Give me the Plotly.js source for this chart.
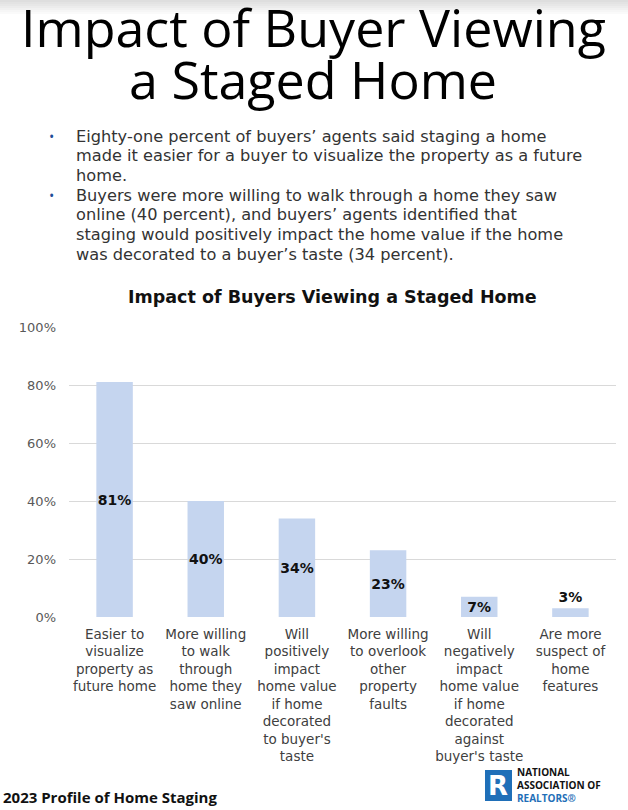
<!DOCTYPE html>
<html><head><meta charset="utf-8">
<script src="https://cdn.plot.ly/plotly-3.0.1.min.js"></script>
<style>html,body{margin:0;padding:0;background:#fff}#chart{width:628px;height:810px}</style>
</head><body><div id="chart"></div>
<script>
const categories = [
  "Easier to<br>visualize<br>property as<br>future home",
  "More willing<br>to walk<br>through<br>home they<br>saw online",
  "Will<br>positively<br>impact<br>home value<br>if home<br>decorated<br>to buyer's<br>taste",
  "More willing<br>to overlook<br>other<br>property<br>faults",
  "Will<br>negatively<br>impact<br>home value<br>if home<br>decorated<br>against<br>buyer's taste",
  "Are more<br>suspect of<br>home<br>features"
];
const values = [81, 40, 34, 23, 7, 3];
const labelPositions = ["inside", "inside", "inside", "inside", "inside", "outside"];
const yTickVals = [0, 20, 40, 60, 80, 100];
const bulletLines = [
  "Eighty-one percent of buyers’ agents said staging a home",
  "made it easier for a buyer to visualize the property as a future",
  "home.",
  "Buyers were more willing to walk through a home they saw",
  "online (40 percent), and buyers’ agents identified that",
  "staging would positively impact the home value if the home",
  "was decorated to a buyer’s taste (34 percent)."
];
const bulletStarts = [0, 3];

const FONT = "Open Sans, Lato, sans-serif";
const WIDE = "DejaVu Sans, sans-serif";
const T = 327; // top margin in px

function py(Y) { return T - Y; } // pixel row -> yshift from paper top

const trace = {
  type: "bar",
  x: categories,
  y: values,
  marker: {color: "#c5d5ef"},
  text: values.map(v => v + "%"),
  textposition: labelPositions,
  textangle: 0,
  insidetextanchor: "middle",
  constraintext: "none",
  cliponaxis: false,
  textfont: {family: WIDE, size: 14, color: "#111", weight: 700},
  hoverinfo: "skip"
};

const annotations = [
  {text: "Impact of Buyer Viewing", xref: "paper", yref: "paper",
   x: 0, y: 1, xanchor: "center", yanchor: "middle", showarrow: false,
   xshift: 313 - 69, yshift: py(26),
   font: {family: FONT, size: 52, color: "#000"}},
  {text: "a Staged Home", xref: "paper", yref: "paper",
   x: 0, y: 1, xanchor: "center", yanchor: "middle", showarrow: false,
   xshift: 313 - 69, yshift: py(78),
   font: {family: FONT, size: 52, color: "#000"}},
  {text: "<b>Impact of Buyers Viewing a Staged Home</b>", xref: "paper", yref: "paper",
   x: 0, y: 1, xanchor: "center", yanchor: "middle", showarrow: false,
   xshift: 332 - 69, yshift: py(297),
   font: {family: WIDE, size: 17.5, color: "#111"}},
  {text: "<b>2023 Profile of Home Staging</b>", xref: "paper", yref: "paper",
   x: 0, y: 1, xanchor: "left", yanchor: "middle", showarrow: false, xshift: 4 - 69 - 3, yshift: py(797),
   font: {family: FONT, size: 15, color: "#111"}},
  {text: "R", xref: "paper", yref: "paper", x: 0, y: 1, xanchor: "center", yanchor: "middle",
   showarrow: false, xshift: 498 - 69, yshift: py(786),
   font: {family: WIDE, size: 26, color: "#fff", weight: 700}},
  {text: "<b>NATIONAL<br>ASSOCIATION OF<br><span style='color:#1f6fb8'>REALTORS®</span></b>", xref: "paper", yref: "paper",
   x: 0, y: 1, xanchor: "left", yanchor: "middle", align: "left", showarrow: false,
   xshift: 515 - 69, yshift: py(785),
   font: {family: FONT, size: 10, color: "#111"}}
];
bulletLines.forEach((line, i) => {
  annotations.push({text: line, xref: "paper", yref: "paper", x: 0, y: 1,
    xanchor: "left", yanchor: "middle", align: "left", showarrow: false,
    xshift: 76 - 69 - 2, yshift: py(136 + i * 19.7),
    font: {family: WIDE, size: 16.2, color: "#333"}});
});
bulletStarts.forEach(i => {
  annotations.push({text: "•", xref: "paper", yref: "paper", x: 0, y: 1,
    xanchor: "center", yanchor: "middle", showarrow: false,
    xshift: 51 - 69, yshift: py(136 + i * 19.7),
    font: {family: FONT, size: 14, color: "#1f4e99"}});
});

const shapes = [
  {type: "rect", xref: "paper", yref: "paper", xsizemode: "pixel", ysizemode: "pixel",
   xanchor: 0, yanchor: 1, x0: 485 - 69, x1: 512 - 69, y0: py(770), y1: py(801),
   fillcolor: "#1f6fb8", line: {width: 0}}
];
// faint grey shading along the top edge
for (let k = 0; k < 7; k++) {
  shapes.push({type: "rect", xref: "paper", yref: "paper", ysizemode: "pixel", yanchor: 1,
    x0: -0.2, x1: 1.1, y0: py(k * 2), y1: py(k * 2 + 2), layer: "below",
    fillcolor: "#c8c8c8", opacity: 0.6 * (1 - k / 7), line: {width: 0}});
}

const layout = {
  width: 628, height: 810,
  margin: {l: 69, r: 12, t: T, b: 193},
  paper_bgcolor: "#fff", plot_bgcolor: "#fff",
  bargap: 0.6,
  showlegend: false,
  font: {family: WIDE, color: "#404040"},
  xaxis: {
    tickfont: {family: WIDE, size: 13.5, color: "#404040"},
    showgrid: false, showline: false, ticks: "", fixedrange: true,
    ticklabelstandoff: 7
  },
  yaxis: {
    range: [0, 100], tickvals: yTickVals, ticktext: yTickVals.map(v => v + "%"),
    tickfont: {family: WIDE, size: 13, color: "#595959"},
    gridcolor: "#d9d9d9", gridwidth: 1, zeroline: false, showline: false,
    ticklabelstandoff: 12, fixedrange: true
  },
  annotations: annotations,
  shapes: shapes
};

Plotly.newPlot("chart", [trace], layout, {displayModeBar: false, staticPlot: true});
</script></body></html>
